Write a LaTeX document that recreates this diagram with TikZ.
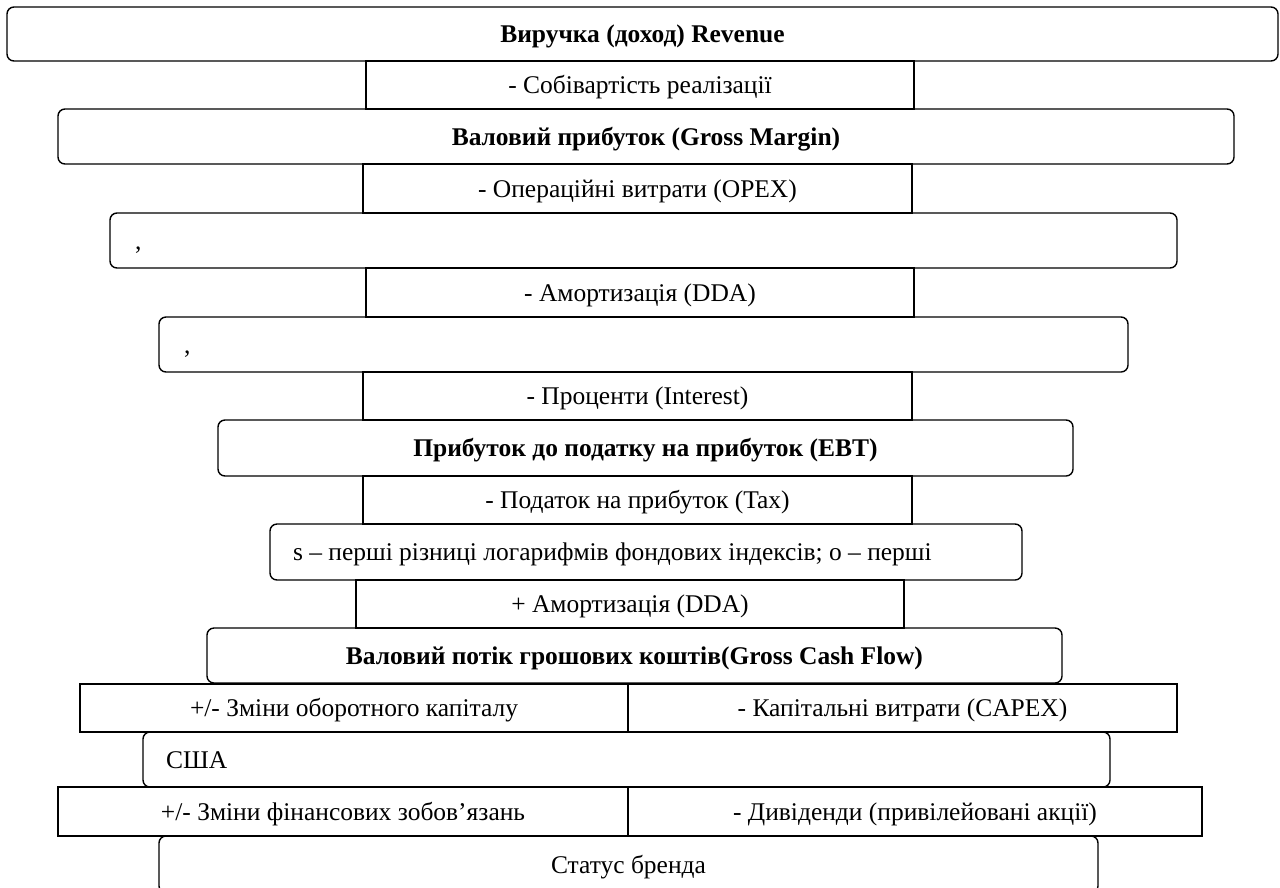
\documentclass[tikz,border=0pt]{standalone}
\usepackage{fontspec}
\setmainfont{Liberation Serif}
\usetikzlibrary{calc}

\begin{document}
\begin{tikzpicture}[x=0.02cm,y=-0.02cm,
	font=\fontsize{14.5}{16}\selectfont,
	gbox/.style={draw,line width=0.8pt,rounded corners=0.14cm,inner sep=0pt,outer sep=0pt,
		text height=2.2ex,text depth=0pt},
	sbox/.style={draw,line width=0.8pt,inner sep=0pt,outer sep=0pt,
		text height=2.2ex,text depth=0pt},
	bold/.style={font=\fontsize{14.5}{16}\selectfont\bfseries},
	wh/.style 2 args={minimum width=#1*0.02cm,minimum height=#2*0.02cm}]
	\useasboundingbox (0,0) rectangle (1280,887);
	% main chain
	\node[gbox,bold,wh={1271}{54}] (rev) at (642.5,34) {Виручка (доход) Revenue};
	\node[sbox,wh={548}{48}] (cost) at (640,85) {- Собівартість реалізації};
	\node[gbox,bold,wh={1176}{55}] (gm) at (646,136.5) {Валовий прибуток (Gross Margin)};
	\node[sbox,wh={549}{49}] (opex) at (637.5,188.5) {- Операційні витрати (OPEX)};
	\node[gbox,wh={1067}{55},text width=20.34cm,align=flush left] (ebitda) at (643.5,240.5) {,};
	\node[sbox,wh={548}{49}] (dda) at (640,292.5) {- Амортизація (DDA)};
	\node[gbox,wh={969}{55},text width=18.38cm,align=flush left] (ebit) at (643.5,344.5) {,};
	\node[sbox,wh={549}{48}] (intr) at (637.5,396) {- Проценти (Interest)};
	\node[gbox,bold,wh={855}{56}] (ebt) at (645.5,448) {Прибуток до податку на прибуток (EBT)};
	\node[sbox,wh={549}{48}] (tax) at (637.5,500) {- Податок на прибуток (Tax)};
	\node[gbox,wh={752}{56},text width=14.12cm,align=flush left] (net) at (646,552)
		{s – перші різниці логарифмів фондових індексів; о – перші};
	\node[sbox,wh={548}{48}] (adda) at (630,604) {+ Амортизація (DDA)};
	\node[gbox,bold,wh={855}{55}] (gcf) at (634.5,655.5) {Валовий потік грошових коштів(Gross Cash Flow)};
	% adjustments
	\node[sbox,wh={548}{48}] (wc) at (354,708) {+/- Зміни оборотного капіталу};
	\node[sbox,wh={549}{48}] (capex) at (902.5,708) {- Капітальні витрати (CAPEX)};
	\node[gbox,wh={967}{55},text width=18.42cm,align=flush left] (usa) at (626.5,759.5) {США};
	\node[sbox,wh={570}{49}] (fin) at (343,811.5) {+/- Зміни фінансових зобов’язань};
	\node[sbox,wh={574}{49}] (div) at (915,811.5) {- Дивіденди (привілейовані акції)};
	\node[gbox,wh={939}{57}] (brand) at (628.5,864.5) {Статус бренда};
\end{tikzpicture}
\end{document}
